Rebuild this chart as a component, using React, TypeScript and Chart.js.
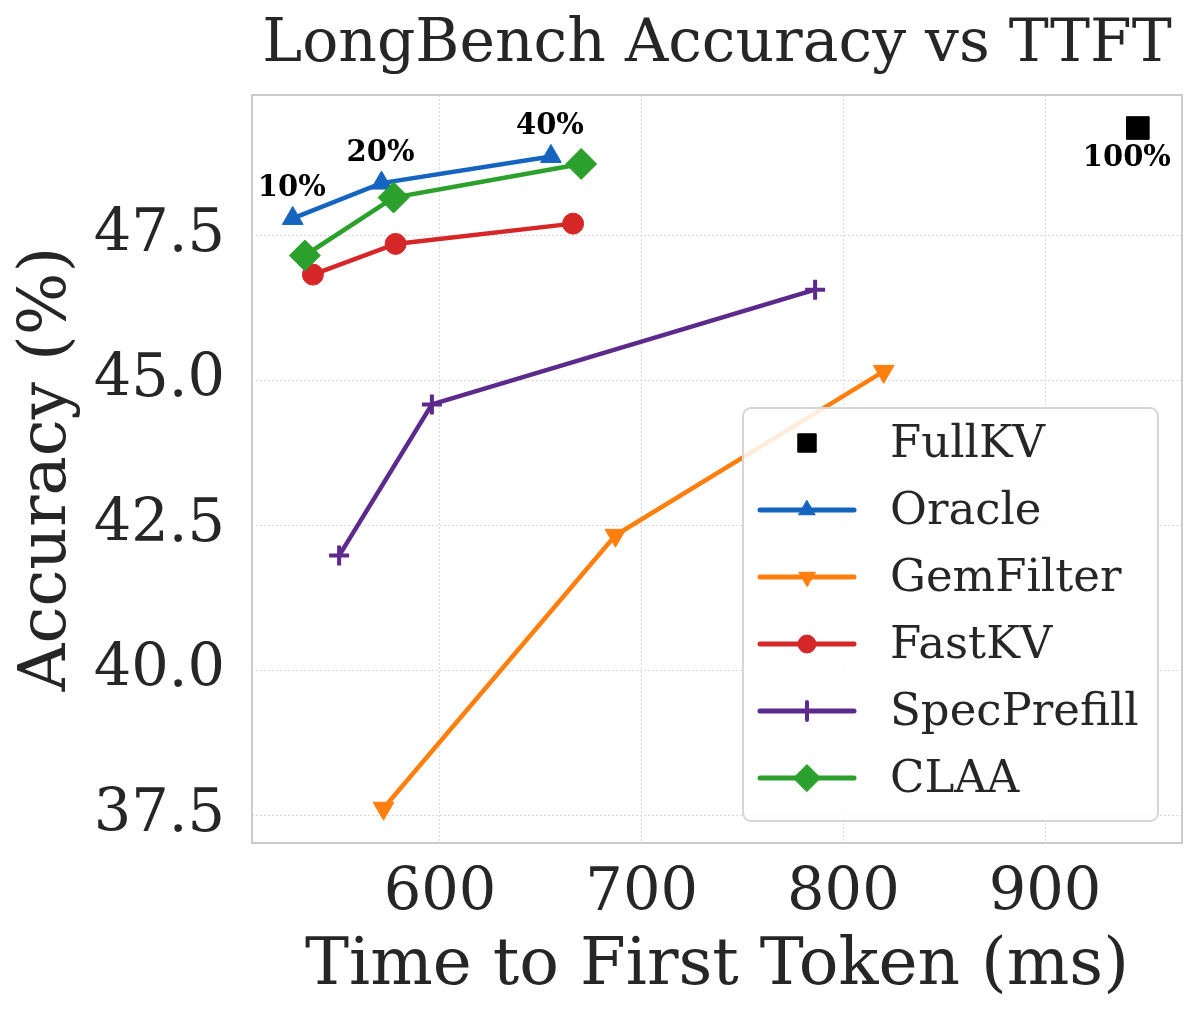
import { useEffect, useRef } from 'react'
import { Chart, registerables } from 'chart.js'
import { drawPoint } from 'chart.js/helpers'

Chart.register(...registerables)

// TTFT (ms) and LongBench accuracy (%) per method
const fullKvTtft = [946]
const fullKvAcc = [49.36]
const oracleTtft = [527, 571, 655]
const oracleAcc = [47.8, 48.41, 48.87]
const gemFilterTtft = [572, 687, 820]
const gemFilterAcc = [37.62, 42.33, 45.16]
const fastKvTtft = [537, 578, 666]
const fastKvAcc = [46.83, 47.36, 47.71]
const specPrefillTtft = [550, 596, 786]
const specPrefillAcc = [41.98, 44.59, 46.57]
const claaTtft = [533, 577, 670]
const claaAcc = [47.16, 48.16, 48.74]

const ratioLabels = ['10%', '20%', '40%']
const fullLabel = '100%'
const xTicks = [600, 700, 800, 900]
const yTicks = [37.5, 40, 42.5, 45, 47.5]

const FONT = "'DejaVu Serif', serif"
const TEXT = '#262626'

const series = [
  { name: 'FullKV', xs: fullKvTtft, ys: fullKvAcc, color: '#000000', style: 'rect', r: 16, lr: 13, rot: 0, bw: 1, line: false },
  { name: 'Oracle', xs: oracleTtft, ys: oracleAcc, color: '#1565c0', style: 'triangle', r: 12, lr: 9.5, rot: 0, bw: 1, line: true },
  { name: 'GemFilter', xs: gemFilterTtft, ys: gemFilterAcc, color: '#ff7f0e', style: 'triangle', r: 12, lr: 9.5, rot: 180, bw: 1, line: true },
  { name: 'FastKV', xs: fastKvTtft, ys: fastKvAcc, color: '#d62728', style: 'circle', r: 10.5, lr: 9, rot: 0, bw: 1, line: true },
  { name: 'SpecPrefill', xs: specPrefillTtft, ys: specPrefillAcc, color: '#5b2a8c', style: 'cross', r: 10, lr: 9, rot: 0, bw: 4, line: true },
  { name: 'CLAA', xs: claaTtft, ys: claaAcc, color: '#2ca02c', style: 'rectRot', r: 15.5, lr: 13.5, rot: 0, bw: 1, line: true },
]

const framePlugin = {
  id: 'frame',
  beforeDatasetsDraw(chart: any) {
    const { ctx, chartArea: a } = chart
    ctx.save()
    ctx.strokeStyle = '#cccccc'
    ctx.lineWidth = 2
    ctx.strokeRect(a.left, a.top, a.right - a.left, a.bottom - a.top)
    ctx.restore()
  },
}

const labelPlugin = {
  id: 'pctLabels',
  afterDatasetsDraw(chart: any) {
    const { ctx } = chart
    ctx.save()
    ctx.font = `bold 29px ${FONT}`
    ctx.fillStyle = '#000'
    ctx.textAlign = 'center'
    ctx.textBaseline = 'middle'
    const oracle = chart.getDatasetMeta(1).data
    oracle.forEach((p: any, i: number) => {
      ctx.fillText(ratioLabels[i], p.x - 1, p.y - 30)
    })
    const full = chart.getDatasetMeta(0).data[0]
    ctx.fillText(fullLabel, full.x - 11, full.y + 30)
    ctx.restore()
  },
}

const legendPlugin = {
  id: 'boxLegend',
  afterDraw(chart: any) {
    const { ctx, chartArea: a } = chart
    const w = 415
    const h = 413
    const x0 = a.right - 24 - w
    const y0 = a.bottom - 22 - h
    ctx.save()
    ctx.beginPath()
    ctx.roundRect(x0, y0, w, h, 8)
    ctx.fillStyle = 'rgba(255,255,255,0.85)'
    ctx.fill()
    ctx.strokeStyle = '#d6d6d6'
    ctx.lineWidth = 2
    ctx.stroke()
    series.forEach((s, i) => {
      const cy = y0 + 35 + i * 67
      const mx = x0 + 64
      if (s.line) {
        ctx.beginPath()
        ctx.moveTo(x0 + 17, cy)
        ctx.lineTo(x0 + 111, cy)
        ctx.strokeStyle = s.color
        ctx.lineWidth = 5
        ctx.lineCap = 'round'
        ctx.stroke()
      }
      ctx.fillStyle = s.color
      ctx.strokeStyle = s.color
      ctx.lineWidth = s.bw
      drawPoint(ctx, { pointStyle: s.style, rotation: s.rot, radius: s.lr, borderWidth: s.bw } as any, mx, cy)
      ctx.fillStyle = TEXT
      ctx.font = `45px ${FONT}`
      ctx.textAlign = 'left'
      ctx.textBaseline = 'middle'
      ctx.fillText(s.name, x0 + 147, cy + 2)
    })
    ctx.restore()
  },
}

const App = () => {
  const canvasRef = useRef<HTMLCanvasElement>(null)
  const chartRef = useRef<Chart | null>(null)

  useEffect(() => {
    document.body.style.margin = '0'
    if (canvasRef.current) {
      chartRef.current = new Chart(canvasRef.current, {
        type: 'scatter',
        data: {
          datasets: series.map((s, i) => ({
            label: s.name,
            data: s.xs.map((x, j) => ({ x, y: s.ys[j] })),
            showLine: s.line,
            borderColor: s.color,
            backgroundColor: s.color,
            borderWidth: 4.5,
            pointStyle: s.style as any,
            pointRadius: s.r,
            pointRotation: s.rot,
            pointBorderWidth: s.bw,
            pointBorderColor: s.color,
            pointBackgroundColor: s.color,
            order: series.length - 1 - i,
          })),
        },
        options: {
          animation: false,
          responsive: true,
          maintainAspectRatio: false,
          layout: { padding: { top: 0, right: 18, bottom: 0, left: 0 } },
          plugins: {
            legend: { display: false },
            tooltip: { enabled: false },
            title: {
              display: true,
              text: 'LongBench Accuracy vs TTFT',
              fullSize: false,
              color: TEXT,
              font: { family: FONT, size: 60, weight: 'normal' },
              padding: { top: 9, bottom: 14 },
            },
          },
          scales: {
            x: {
              type: 'linear',
              min: 506.8,
              max: 967.9,
              afterBuildTicks: (scale: any) => {
                scale.ticks = xTicks.map((v) => ({ value: v }))
              },
              afterFit: (scale: any) => {
                scale.height = 177
              },
              ticks: {
                color: TEXT,
                font: { family: FONT, size: 59 },
                padding: 16,
                maxRotation: 0,
                callback: (v: any) => String(v),
              },
              grid: { color: '#d9d9d9', lineWidth: 1, drawTicks: false },
              border: { display: false, dash: [2, 2] },
              title: {
                display: true,
                text: 'Time to First Token (ms)',
                color: TEXT,
                font: { family: FONT, size: 66 },
                padding: { top: 0, bottom: 14 },
              },
            },
            y: {
              type: 'linear',
              min: 37.02,
              max: 49.93,
              afterBuildTicks: (scale: any) => {
                scale.ticks = yTicks.map((v) => ({ value: v }))
              },
              afterFit: (scale: any) => {
                scale.width = 252
              },
              ticks: {
                color: TEXT,
                font: { family: FONT, size: 59 },
                padding: 27,
                callback: (v: any) => Number(v).toFixed(1),
              },
              grid: { color: '#d9d9d9', lineWidth: 1, drawTicks: false },
              border: { display: false, dash: [2, 2] },
              title: {
                display: true,
                text: 'Accuracy (%)',
                color: TEXT,
                font: { family: FONT, size: 66 },
                padding: { top: 8, bottom: 0 },
              },
            },
          },
        },
        plugins: [framePlugin, labelPlugin, legendPlugin],
      })
    }
    return () => {
      if (chartRef.current) {
        chartRef.current.destroy()
        chartRef.current = null
      }
    }
  }, [])

  return (
    <div style={{ width: 1200, height: 1020, background: '#fff' }}>
      <canvas ref={canvasRef}></canvas>
    </div>
  )
}

export default App
